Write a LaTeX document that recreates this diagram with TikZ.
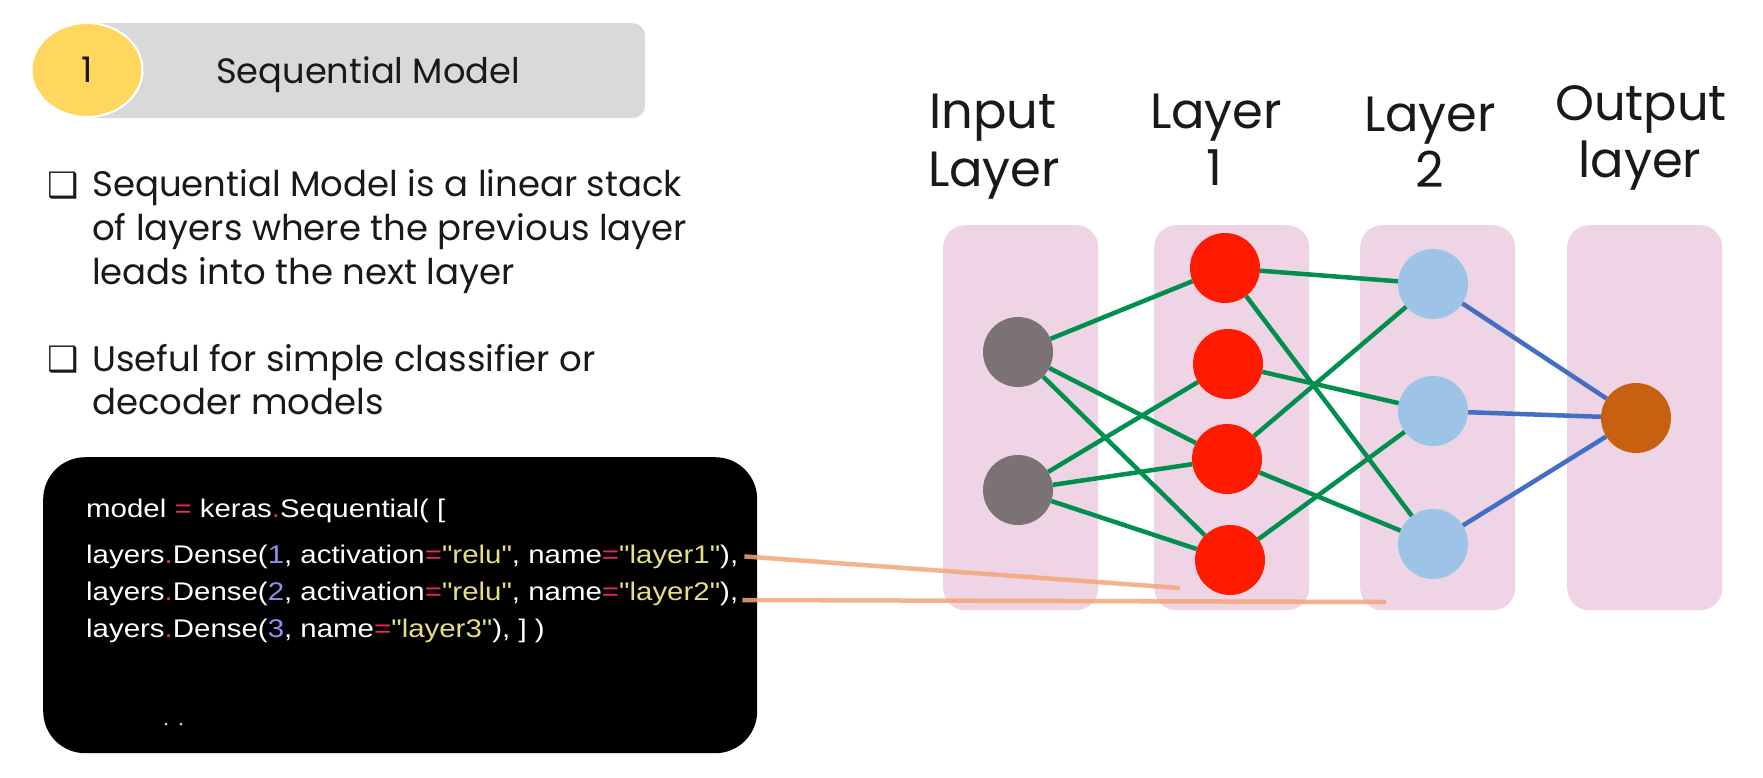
\documentclass[tikz,border=0pt]{standalone}
\usepackage{fontspec}
\usepackage{graphicx}
\setmainfont{Poppins}
\newfontfamily\codefont{Liberation Sans}
\newfontfamily\symfont{DejaVu Sans}
\usetikzlibrary{shapes.geometric}
\definecolor{barGrey}{RGB}{217,217,217}
\definecolor{badgeY}{RGB}{255,215,95}
\definecolor{panelPink}{RGB}{238,212,228}
\definecolor{nGrey}{RGB}{122,114,116}
\definecolor{nRed}{RGB}{255,26,0}
\definecolor{nBlue}{RGB}{157,195,230}
\definecolor{nOrange}{RGB}{200,96,18}
\definecolor{eGreen}{RGB}{0,143,78}
\definecolor{eBlue}{RGB}{66,110,196}
\definecolor{cPink}{RGB}{240,40,90}
\definecolor{cNum}{RGB}{160,135,240}
\definecolor{cStr}{RGB}{230,222,130}
\definecolor{annot}{RGB}{244,166,120}
\definecolor{txt}{RGB}{25,25,25}
\newlength\fitlen
\newcommand\fitfont[4]{\settowidth\fitlen{#2\fontsize{10}{12}\selectfont #3}\pgfmathsetmacro#1{10*#4/\fitlen}}
\newcommand\codesize{25.5}
\AtBeginDocument{%
  \fitfont{\titlefs}{\rmfamily}{Sequential Model}{304}%
  \fitfont{\bodyfs}{\rmfamily}{Sequential Model is a linear stack}{590}%
  \fitfont{\labfs}{\rmfamily}{Layer}{132}%
  \settowidth\fitlen{\codefont\fontsize{\codesize}{\codesize}\selectfont layers.Dense(1, activation="relu", name="layer1"),}%
  \pgfmathsetmacro\codesx{652/\fitlen}%
}
\newcommand\cpk[1]{\textcolor{cPink}{#1}}
\newcommand\cnm[1]{\textcolor{cNum}{#1}}
\newcommand\cst[1]{\textcolor{cStr}{#1}}
\newcommand\codeline[1]{\scalebox{\codesx}[1]{#1}}
\begin{document}
\begin{tikzpicture}[x=1pt,y=-1pt,
  bodytxt/.style={anchor=base west, inner sep=0, text=txt, font=\fontsize{\bodyfs}{\bodyfs}\selectfont},
  bulletmark/.style={anchor=base west, inner sep=0, text=txt, font=\symfont\fontsize{35}{35}\selectfont},
  labtxt/.style={anchor=base, inner sep=0, text=txt, font=\fontsize{\labfs}{\labfs}\selectfont},
  codetxt/.style={anchor=base west, inner sep=0, text=white, font=\codefont\fontsize{\codesize}{\codesize}\selectfont},
  panel/.style={fill=panelPink, rounded corners=22, inner sep=0, anchor=north west, minimum width=155, minimum height=385},
  neuron/.style={circle, minimum size=70, inner sep=0},
  gline/.style={eGreen, line width=4.5},
  bline/.style={eBlue, line width=4.5},
  annotline/.style={annot, line width=4.5, opacity=0.85}
]
\useasboundingbox[fill=white] (0,0) rectangle (1763,777);

% ---- header badge
\node[fill=barGrey, rounded corners=13, inner sep=0, anchor=north west, minimum width=558, minimum height=95] (bar) at (87,23) {};
\node[ellipse, fill=badgeY, draw=white, line width=2, inner sep=0, minimum width=111, minimum height=94, text=txt, font=\fontsize{\titlefs}{\titlefs}\selectfont] (badge) at (87,70) {1};
\node[anchor=base west, inner sep=0, text=txt, font=\fontsize{\titlefs}{\titlefs}\selectfont] (title) at (216,83) {Sequential Model};

% ---- bullets
\node[bulletmark] (bm1) at (47,197) {❑};
\node[bodytxt] (t11) at (92,196) {Sequential Model is a linear stack};
\node[bodytxt] (t12) at (92,240) {of layers where the previous layer};
\node[bodytxt] (t13) at (92,284) {leads into the next layer};
\node[bulletmark] (bm2) at (47,371) {❑};
\node[bodytxt] (t21) at (92,371) {Useful for simple classifier or};
\node[bodytxt] (t22) at (92,414) {decoder models};

% ---- code box
\node[fill=black, rounded corners=42, inner sep=0, anchor=north west, minimum width=714, minimum height=296] (code) at (43,457) {};
\node[codetxt] (c1) at (86,517) {\codeline{model \cpk{=} keras\cpk{.}Sequential( [}};
\node[codetxt] (c2) at (86,563) {\codeline{layers\cpk{.}Dense(\cnm{1}, activation\cpk{=}\cst{"relu"}, name\cpk{=}\cst{"layer1"}),}};
\node[codetxt] (c3) at (86,600) {\codeline{layers\cpk{.}Dense(\cnm{2}, activation\cpk{=}\cst{"relu"}, name\cpk{=}\cst{"layer2"}),}};
\node[codetxt] (c4) at (86,637) {\codeline{layers\cpk{.}Dense(\cnm{3}, name\cpk{=}\cst{"layer3"}), ] )}};
\fill[white!85!black] (166,724) circle (1.5) (181,724) circle (1.5);

% ---- network panels
\node[panel] (p1) at (943,225) {};
\node[panel] (p2) at (1154,225) {};
\node[panel] (p3) at (1360,225) {};
\node[panel] (p4) at (1567,225) {};

% ---- labels
\node[labtxt] (lab1a) at (993,128) {Input};
\node[labtxt] (lab1b) at (994,186) {Layer};
\node[labtxt] (lab2a) at (1216,128) {Layer};
\node[labtxt] (lab2b) at (1214,185) {1};
\node[labtxt] (lab3a) at (1430,131) {Layer};
\node[labtxt] (lab3b) at (1430,187) {2};
\node[labtxt] (lab4a) at (1641,120) {Output};
\node[labtxt] (lab4b) at (1640,177) {layer};

% ---- neurons
\node[neuron, fill=nGrey] (i1) at (1018,352) {};
\node[neuron, fill=nGrey] (i2) at (1018,490) {};
\node[neuron, fill=nRed] (h1) at (1225,268) {};
\node[neuron, fill=nRed] (h2) at (1228,364) {};
\node[neuron, fill=nRed] (h3) at (1227,459) {};
\node[neuron, fill=nRed] (h4) at (1230,560) {};
\node[neuron, fill=nBlue] (g1) at (1433,284) {};
\node[neuron, fill=nBlue] (g2) at (1433,411) {};
\node[neuron, fill=nBlue] (g3) at (1433,544) {};
\node[neuron, fill=nOrange] (o1) at (1636,418) {};

% ---- connections
\draw[gline] (i1) -- (h1);
\draw[gline] (i1) -- (h3);
\draw[gline] (i1) -- (h4);
\draw[gline] (i2) -- (h2);
\draw[gline] (i2) -- (h3);
\draw[gline] (i2) -- (h4);
\draw[gline] (h1) -- (g1);
\draw[gline] (h1) -- (g3);
\draw[gline] (h2) -- (g2);
\draw[gline] (h3) -- (g1);
\draw[gline] (h3) -- (g3);
\draw[gline] (h4) -- (g2);
\draw[bline] (g1) -- (o1);
\draw[bline] (g2) -- (o1);
\draw[bline] (g3) -- (o1);

% ---- annotation strokes
\coordinate (endA) at (1180,588);
\coordinate (endB) at (1386,602);
\draw[annotline] ([xshift=6]c2.east) -- (endA);
\draw[annotline] ([xshift=4]c3.base east) -- (endB);
\end{tikzpicture}
\end{document}
